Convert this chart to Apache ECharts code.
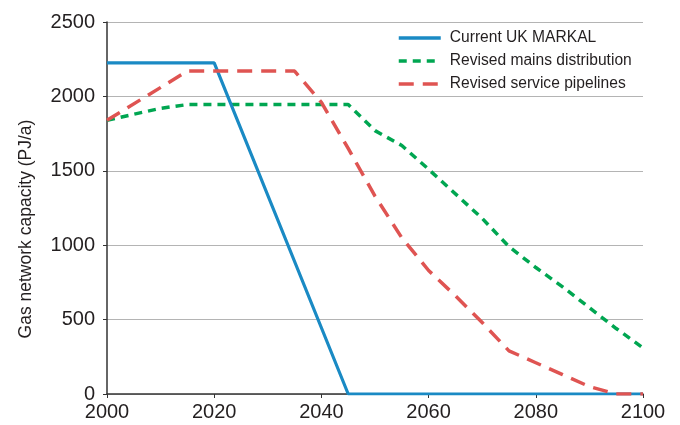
<!DOCTYPE html>
<html>
<head>
<meta charset="utf-8">
<script src="https://cdn.jsdelivr.net/npm/echarts@6/dist/echarts.min.js"></script>
<style>html,body{margin:0;padding:0;background:#fff}#c{width:680px;height:425px}</style>
</head>
<body>
<div id="c"></div>
<script>
const seriesNames = ['Current UK MARKAL', 'Revised mains distribution', 'Revised service pipelines'];
const blueYears = [2000, 2020, 2045, 2100];
const blueValues = [2225, 2225, 0, 0];
const greenYears = [2000, 2005, 2010, 2015, 2045, 2050, 2055, 2060, 2070, 2075, 2080, 2085, 2090, 2095, 2100];
const greenValues = [1840, 1880, 1920, 1945, 1945, 1770, 1670, 1510, 1180, 990, 850, 720, 580, 440, 310];
const redYears = [2000, 2015, 2035, 2040, 2045, 2050, 2055, 2060, 2065, 2070, 2075, 2080, 2085, 2090, 2095, 2100];
const redValues = [1840, 2170, 2170, 1960, 1650, 1330, 1050, 830, 660, 480, 290, 210, 130, 50, 0, 0];
const xTicks = [2000, 2020, 2040, 2060, 2080, 2100];
const yTicks = [0, 500, 1000, 1500, 2000, 2500];
const yName = 'Gas network capacity (PJ/a)';

const pairs = (xs, ys) => xs.map((x, i) => [x, ys[i]]);
const font = "'Liberation Sans', Arial, sans-serif";
const txt = '#231f20';

const chart = echarts.init(document.getElementById('c'), null, {renderer: 'canvas'});
chart.setOption({
  animation: false,
  backgroundColor: '#fff',
  grid: {left: 107, right: 37, top: 22, bottom: 31, containLabel: false},
  legend: {
    orient: 'vertical', left: 397, top: 30, padding: 0,
    itemWidth: 42, itemHeight: 10, itemGap: 7,
    itemStyle: {opacity: 0},
    lineStyle: {width: 3.5},
    textStyle: {fontFamily: font, fontSize: 15.6, color: txt, padding: [0, 0, 0, 4]},
    data: seriesNames
  },
  xAxis: [{
    type: 'value', min: xTicks[0], max: xTicks[xTicks.length - 1], interval: 20,
    axisLine: {show: true, onZero: false, lineStyle: {color: '#333', width: 1.5}},
    axisTick: {show: true, length: 4, inside: false, lineStyle: {color: '#333'}},
    axisLabel: {fontFamily: font, fontSize: 20, color: txt, margin: 8, formatter: v => String(v)},
    splitLine: {show: false}
  }, {
    type: 'value', position: 'top', min: xTicks[0], max: xTicks[xTicks.length - 1],
    axisLine: {show: true, lineStyle: {color: '#555', width: 1.2}},
    axisTick: {show: false}, axisLabel: {show: false}, splitLine: {show: false}
  }],
  yAxis: {
    type: 'value', min: yTicks[0], max: yTicks[yTicks.length - 1], interval: 500,
    name: yName, nameLocation: 'middle', nameGap: 72, nameRotate: 90,
    nameTextStyle: {fontFamily: font, fontSize: 17.5, color: txt, padding: [0, 42, 0, 0]},
    axisLine: {show: true, lineStyle: {color: '#333', width: 1.5}},
    axisTick: {show: true, length: 4, lineStyle: {color: '#333'}},
    axisLabel: {fontFamily: font, fontSize: 20, color: txt, margin: 12, formatter: v => String(v)},
    splitLine: {show: true, lineStyle: {color: '#b4b4b4', width: 1}}
  },
  series: [
    {name: seriesNames[0], type: 'line', data: pairs(blueYears, blueValues), symbol: 'none', z: 5,
     lineStyle: {color: '#1a8ac4', width: 3.2}, itemStyle: {color: '#1a8ac4'}},
    {name: seriesNames[1], type: 'line', data: pairs(greenYears, greenValues), symbol: 'none', z: 3,
     lineStyle: {color: '#00a651', width: 3.5, type: [8, 6], cap: 'butt'}, itemStyle: {color: '#00a651'}},
    {name: seriesNames[2], type: 'line', data: pairs(redYears, redValues), symbol: 'none', z: 6,
     lineStyle: {color: '#df5452', width: 3.5, type: [15, 9], cap: 'butt'}, itemStyle: {color: '#df5452'}}
  ]
});
</script>
</body>
</html>
